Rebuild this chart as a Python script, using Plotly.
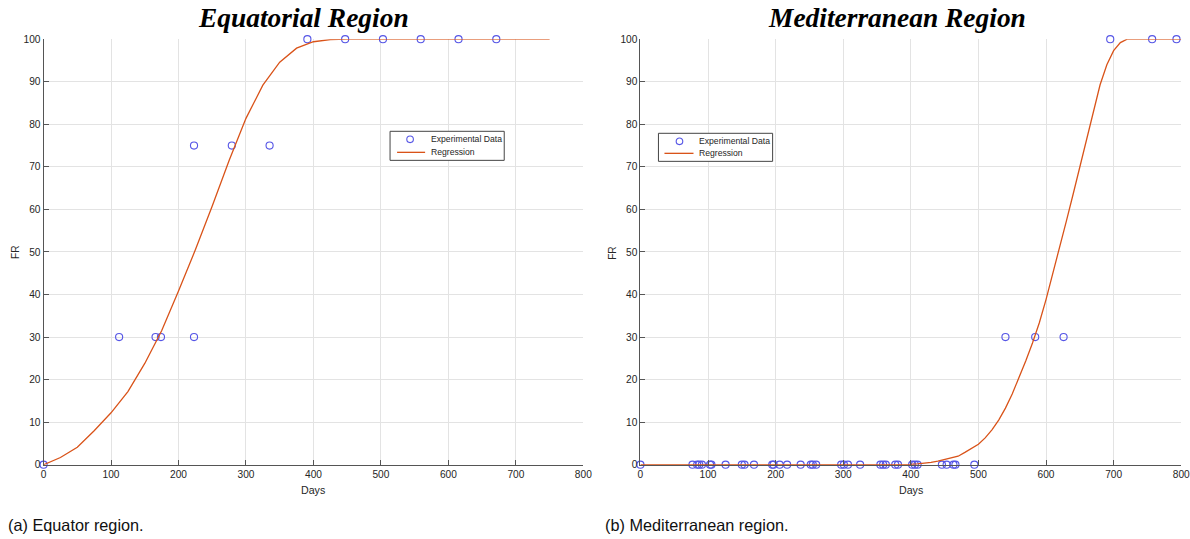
import plotly.graph_objects as go

# ---------------- data ----------------
# (a) Equatorial region
eq_days = [0, 112, 166, 174, 223, 223, 279, 335, 391, 447, 503, 559, 615, 671]
eq_fr = [0, 30, 30, 30, 30, 75, 75, 75, 100, 100, 100, 100, 100, 100]
eq_reg_days = [0, 25, 50, 75, 100, 125, 150, 175, 200, 225, 250, 275, 300, 325,
               350, 375, 400, 425, 450, 500, 550, 600, 650, 700, 750]
eq_reg_fr = [0, 1.7, 4.1, 8.0, 12.2, 17.2, 23.8, 31.5, 40.8, 50.5, 60.8, 71.5, 81.4, 89.2,
             94.6, 97.9, 99.4, 99.9, 100, 100, 100, 100, 100, 100, 100]

# (b) Mediterranean region
med_days = [0, 77, 84, 87, 91, 103, 105, 126, 150, 154, 168, 195, 197, 206, 217, 237,
            252, 255, 260, 297, 301, 307, 325, 355, 359, 363, 377, 381, 402, 406, 410,
            446, 453, 463, 466, 494, 540, 584, 626, 695, 757, 793]
med_fr = [0] * 36 + [30, 30, 30, 100, 100, 100]
med_reg_days = [0, 100, 200, 300, 380, 390, 400, 410, 420, 430, 440, 450, 460, 470, 480,
                490, 500, 510, 520, 530, 540, 550, 560, 570, 580, 590, 600, 610, 620,
                630, 640, 650, 660, 670, 680, 690, 700, 710, 720, 730, 800]
med_reg_fr = [0, 0, 0, 0, 0, 0.05, 0.1, 0.2, 0.35, 0.55, 0.85, 1.2, 1.6, 2.0, 2.9,
              3.8, 4.8, 6.3, 8.2, 10.5, 13.3, 16.6, 20.3, 24.4, 28.6, 33.3, 38.8, 44.8, 50.8,
              57.2, 63.5, 70.0, 77.0, 83.5, 89.3, 94.0, 97.3, 99.2, 100, 100, 100]

titles = ["Equatorial Region", "Mediterranean Region"]
captions = ["(a) Equator region.", "(b) Mediterranean region."]
legend_labels = ["Experimental Data", "Regression"]
x_ticks = [0, 100, 200, 300, 400, 500, 600, 700, 800]
y_ticks = [0, 10, 20, 30, 40, 50, 60, 70, 80, 90, 100]

# ---------------- figure ----------------
# page size and the (measured) page -> picture mapping of the viewer
W, H = 1204, 551
SX, AX = 0.9886, 2.5
SY, AY = 0.9788, 5.85
FS = 1.017  # font compensation

MARKER_COLOR = "rgb(85,85,230)"
LINE_COLOR = "#D95319"
AX_COLOR = "#555555"
GRID_COLOR = "#e3e3e3"
TEXT_COLOR = "#262626"
SANS = "Liberation Sans, Arial"
TICK_FONT = dict(family=SANS, size=10 * FS, color=TEXT_COLOR)


def px(x):
    """target picture x (pixels) -> paper fraction"""
    return ((x - AX) / SX) / W


def py(y):
    """target picture y (pixels, from top) -> paper fraction"""
    return 1 - ((y - AY) / SY) / H


fig = go.Figure()

marker_style = dict(symbol="circle-open", size=7 * FS, color=MARKER_COLOR,
                    line=dict(width=1.1, color=MARKER_COLOR))
line_style = dict(color=LINE_COLOR, width=1.3)

fig.add_trace(go.Scatter(x=eq_days, y=eq_fr, mode="markers", name=legend_labels[0],
                         marker=marker_style, cliponaxis=False, xaxis="x", yaxis="y"))
fig.add_trace(go.Scatter(x=eq_reg_days, y=eq_reg_fr, mode="lines", name=legend_labels[1],
                         line=line_style, cliponaxis=False, xaxis="x", yaxis="y"))
fig.add_trace(go.Scatter(x=med_days, y=med_fr, mode="markers", name=legend_labels[0],
                         marker=marker_style, cliponaxis=False, xaxis="x2", yaxis="y2"))
fig.add_trace(go.Scatter(x=med_reg_days, y=med_reg_fr, mode="lines", name=legend_labels[1],
                         line=line_style, cliponaxis=False, xaxis="x2", yaxis="y2"))

ydom = [py(465), py(40)]
xdoms = [[px(43), px(582)], [px(639), px(1179)]]

axis_common = dict(showgrid=True, gridcolor=GRID_COLOR, gridwidth=1, zeroline=False,
                   showline=True, linecolor=AX_COLOR, linewidth=1, mirror=False,
                   ticks="inside", ticklen=5, tickcolor=AX_COLOR, tickfont=TICK_FONT,
                   fixedrange=True)

fig.update_layout(
    width=W, height=H,
    margin=dict(l=0, r=0, t=0, b=0),
    paper_bgcolor="white", plot_bgcolor="white",
    xaxis=dict(domain=xdoms[0], range=[0, 800], tickvals=x_ticks, anchor="y", **axis_common),
    yaxis=dict(domain=ydom, range=[0, 100], tickvals=y_ticks, anchor="x", **axis_common),
    xaxis2=dict(domain=xdoms[1], range=[0, 800], tickvals=x_ticks, anchor="y2", **axis_common),
    yaxis2=dict(domain=ydom, range=[0, 100], tickvals=y_ticks, anchor="x2", **axis_common),
    showlegend=False,
)

annotations = []
shapes = []
title_x = [303, 895]
ylabel_x = [15, 611]
days_x = [312, 909]
caption_x = [5, 602]
# legend boxes (target pixel positions): left, top, right, bottom
leg_box = [(389, 132, 503, 161), (657, 134, 771, 162)]
leg_marker = [(409, 140), (678, 142)]
leg_line = [(396, 424, 153), (663, 692, 154)]
leg_text_x = [428, 695]

for i in range(2):
    annotations.append(dict(text=f"<b><i>{titles[i]}</i></b>", x=px(title_x[i]), y=py(19),
                            xref="paper", yref="paper", showarrow=False,
                            xanchor="center", yanchor="middle",
                            font=dict(family="Liberation Serif, Times New Roman", size=27 * FS,
                                      color="black")))
    annotations.append(dict(text="FR", x=px(ylabel_x[i]), y=py(253), xref="paper", yref="paper",
                            showarrow=False, textangle=-90, xanchor="center", yanchor="middle",
                            font=dict(family=SANS, size=10 * FS, color=TEXT_COLOR)))
    annotations.append(dict(text="Days", x=px(days_x[i]), y=py(490), xref="paper", yref="paper",
                            showarrow=False, xanchor="center", yanchor="middle",
                            font=dict(family=SANS, size=10.5 * FS, color=TEXT_COLOR)))
    annotations.append(dict(text=captions[i], x=px(caption_x[i]), y=py(525), xref="paper",
                            yref="paper", showarrow=False, xanchor="left", yanchor="middle",
                            font=dict(family=SANS, size=16 * FS, color="#111111")))
    # legend
    l, t, r, b = leg_box[i]
    shapes.append(dict(type="rect", xref="paper", yref="paper",
                       x0=px(l), x1=px(r), y0=py(b), y1=py(t),
                       fillcolor="white", line=dict(color="#444444", width=1), layer="above"))
    mx, my = leg_marker[i]
    shapes.append(dict(type="circle", xref="paper", yref="paper",
                       x0=px(mx - 3.3), x1=px(mx + 3.3), y0=py(my + 3.3), y1=py(my - 3.3),
                       line=dict(color=MARKER_COLOR, width=1.1), layer="above"))
    lx0, lx1, ly = leg_line[i]
    shapes.append(dict(type="line", xref="paper", yref="paper",
                       x0=px(lx0), x1=px(lx1), y0=py(ly), y1=py(ly),
                       line=dict(color=LINE_COLOR, width=1.3), layer="above"))
    for j, yy in enumerate([my, ly]):
        annotations.append(dict(text=legend_labels[j], x=px(leg_text_x[i]), y=py(yy),
                                xref="paper", yref="paper", showarrow=False,
                                xanchor="left", yanchor="middle",
                                font=dict(family=SANS, size=8.5 * FS, color=TEXT_COLOR)))

fig.update_layout(annotations=annotations, shapes=shapes)

fig.write_html("out.html",
               config={"displayModeBar": False},
               post_script="document.body.style.margin='0';"
                           "document.body.style.overflow='hidden';")
